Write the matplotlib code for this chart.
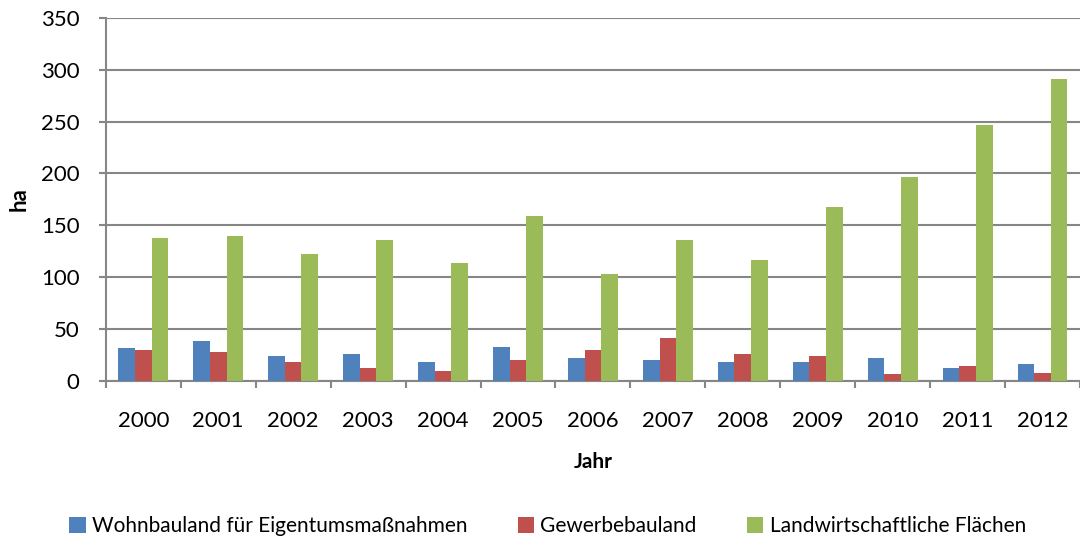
import numpy as np
import matplotlib
matplotlib.use('Agg')
import matplotlib.pyplot as plt

# data (ha per year)
jahre = ['2000', '2001', '2002', '2003', '2004', '2005', '2006',
         '2007', '2008', '2009', '2010', '2011', '2012']
wohnbauland = [32, 38, 24, 26, 18, 33, 22, 20, 18, 18, 22, 12, 16]
gewerbebauland = [30, 28, 18, 12, 10, 20, 30, 41, 26, 24, 7, 14, 8]
landwirtschaft = [138, 140, 122, 136, 114, 159, 103, 136, 117, 168, 197, 247, 291]

series = [
    ('Wohnbauland für Eigentumsmaßnahmen', wohnbauland, '#4F81BD'),
    ('Gewerbebauland', gewerbebauland, '#C0504D'),
    ('Landwirtschaftliche Flächen', landwirtschaft, '#9BBB59'),
]

plt.rcParams['font.family'] = ['Lato', 'DejaVu Sans']

fig = plt.figure(figsize=(10.8, 5.38), dpi=100)
ax = fig.add_axes([0.098, 0.292, 0.902, 0.675])

x = np.arange(len(jahre))
w = 0.222
for i, (name, vals, col) in enumerate(series):
    ax.bar(x + (i - 1) * w, vals, width=w, color=col, label=name, zorder=3)

ax.set_xlim(-0.5, len(jahre) - 0.5)
ax.set_ylim(0, 350)
ax.set_yticks(range(0, 351, 50))
ax.set_xticks(x)
ax.set_xticklabels(jahre)
ax.set_xticks(np.arange(-0.5, len(jahre), 1), minor=True)

grey = '#868686'
ax.grid(axis='y', color=grey, linewidth=1.5, zorder=0)
for s in ['top', 'right']:
    ax.spines[s].set_visible(False)
for s in ['left', 'bottom']:
    ax.spines[s].set_color(grey)
    ax.spines[s].set_linewidth(1.5)

ax.tick_params(axis='x', which='major', length=0, pad=22, labelsize=16)
ax.tick_params(axis='x', which='minor', length=5, width=1.5, color=grey, direction='out')
ax.tick_params(axis='y', length=5, width=1.5, color=grey, pad=14, labelsize=16)

ax.set_ylabel('ha', fontsize=16, fontweight='bold', labelpad=8)
ax.set_xlabel('Jahr', fontsize=15, fontweight='bold', labelpad=15)

fig.legend(loc='center', bbox_to_anchor=(0.507, 0.022), ncol=3, frameon=False,
           fontsize=15, handlelength=0.8, handleheight=0.8, handletextpad=0.3,
           columnspacing=2.4)

fig.savefig('out.png', dpi=100)
